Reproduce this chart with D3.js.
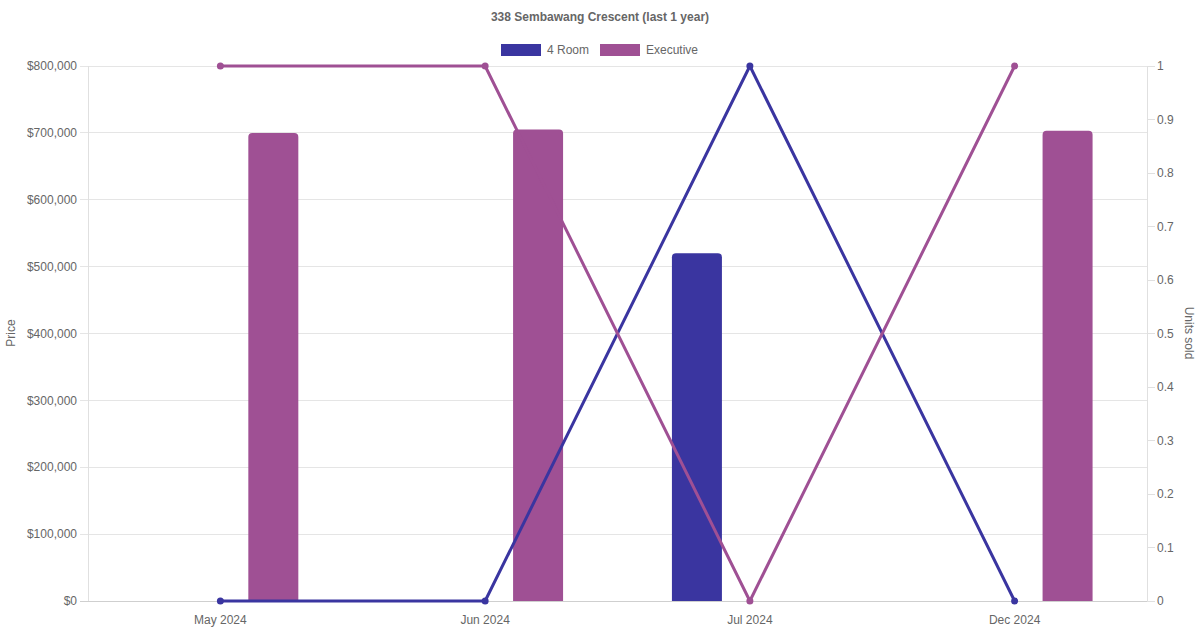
<!DOCTYPE html>
<html><head><meta charset="utf-8">
<script src="https://cdn.jsdelivr.net/npm/d3@7"></script>
<style>body{margin:0;background:#fff}svg{display:block;font-family:"Liberation Sans",Arial,Helvetica,sans-serif}</style>
</head><body>
<svg id="c" width="1200" height="630"></svg>
<script>
const categories = ["May 2024","Jun 2024","Jul 2024","Dec 2024"];
const seriesNames = ["4 Room","Executive"];
const seriesColors = ["#3a35a0","#9f5094"];
const priceFourRoom = [null,null,520000,null];
const priceExecutive = [700000,705000,null,703000];
const unitsFourRoom = [0,0,1,0];
const unitsExecutive = [1,1,0,1];
const priceTicks = [0,100000,200000,300000,400000,500000,600000,700000,800000];
const unitTicks = [0,0.1,0.2,0.3,0.4,0.5,0.6,0.7,0.8,0.9,1];
const title = "338 Sembawang Crescent (last 1 year)";

const svg = d3.select("#c");
const L = 88, R = 1147, T = 66, B = 601;
const x = d3.scaleBand().domain(categories).range([L,R]).padding(0);
const inner = d3.scaleBand().domain(seriesNames).range([x.bandwidth()*0.1, x.bandwidth()*0.9]);
const yP = d3.scaleLinear().domain([0,800000]).range([B,T]);
const yU = d3.scaleLinear().domain([0,1]).range([B,T]);
const txt = "#666";

// grid
svg.append("g").selectAll("line").data(priceTicks).join("line")
  .attr("x1",L-8).attr("x2",R).attr("y1",d=>yP(d)).attr("y2",d=>yP(d))
  .attr("stroke",d=>d===0?"#cfcfcf":"#e5e5e5").attr("stroke-width",1).attr("shape-rendering","crispEdges");
svg.append("line").attr("x1",L).attr("x2",L).attr("y1",T).attr("y2",B).attr("stroke","#e0e0e0").attr("shape-rendering","crispEdges");
svg.append("line").attr("x1",R).attr("x2",R).attr("y1",T).attr("y2",B).attr("stroke","#e0e0e0").attr("shape-rendering","crispEdges");
svg.append("g").selectAll("line").data(unitTicks).join("line")
  .attr("x1",R).attr("x2",R+8).attr("y1",d=>yU(d)).attr("y2",d=>yU(d))
  .attr("stroke","#e0e0e0").attr("shape-rendering","crispEdges");

const fmt = d=>"$"+d3.format(",")(d);
svg.append("g").selectAll("text").data(priceTicks).join("text")
  .attr("x",77).attr("y",d=>yP(d)).attr("dy","0.35em").attr("text-anchor","end")
  .attr("font-size",12).attr("fill",txt).text(fmt);
svg.append("g").selectAll("text").data(unitTicks).join("text")
  .attr("x",1157).attr("y",d=>yU(d)).attr("dy","0.35em").attr("text-anchor","start")
  .attr("font-size",12).attr("fill",txt).text(d=>d3.format("~g")(d));
svg.append("g").selectAll("text").data(categories).join("text")
  .attr("x",d=>x(d)+x.bandwidth()/2).attr("y",620).attr("dy","0.35em").attr("text-anchor","middle")
  .attr("font-size",12).attr("fill",txt).text(d=>d);

svg.append("text").attr("transform","translate(15,333) rotate(-90)").attr("text-anchor","middle")
  .attr("font-size",12).attr("fill",txt).text("Price");
svg.append("text").attr("transform","translate(1185,333) rotate(90)").attr("text-anchor","middle")
  .attr("font-size",12).attr("fill",txt).text("Units sold");

svg.append("text").attr("x",600).attr("y",17).attr("dy","0.35em").attr("text-anchor","middle")
  .attr("font-size",12).attr("font-weight","bold").attr("fill",txt).text(title);

const legend = svg.append("g");
const legX = [501,600];
seriesNames.forEach((n,i)=>{
  legend.append("rect").attr("x",legX[i]).attr("y",44).attr("width",40).attr("height",12).attr("fill",seriesColors[i]);
  legend.append("text").attr("x",legX[i]+46).attr("y",50).attr("dy","0.35em").attr("font-size",12).attr("fill",txt).text(n);
});

const priceSeries = [priceFourRoom, priceExecutive];
const bw = 50, rad = 4;
function barPath(x0,w,yTop,yBot){
  const r = Math.min(rad,(yBot-yTop)/2);
  return `M${x0},${yBot}V${yTop+r}Q${x0},${yTop} ${x0+r},${yTop}H${x0+w-r}Q${x0+w},${yTop} ${x0+w},${yTop+r}V${yBot}Z`;
}
priceSeries.forEach((vals,si)=>{
  svg.append("g").selectAll("path").data(categories.map((c,i)=>({c,v:vals[i]})).filter(d=>d.v!=null)).join("path")
    .attr("d",d=>{
      const cx = x(d.c)+inner(seriesNames[si])+inner.bandwidth()/2;
      return barPath(cx-bw/2,bw,yP(d.v),yP(0));
    })
    .attr("fill",seriesColors[si]);
});

const unitSeries = [unitsFourRoom, unitsExecutive];
unitSeries.forEach((vals,si)=>{
  const pts = categories.map((c,i)=>[x(c)+x.bandwidth()/2, yU(vals[i])]);
  svg.append("path").attr("d",d3.line()(pts)).attr("fill","none")
    .attr("stroke",seriesColors[si]).attr("stroke-width",3).attr("stroke-linejoin","round");
  svg.append("g").selectAll("circle").data(pts).join("circle")
    .attr("cx",d=>d[0]).attr("cy",d=>d[1]).attr("r",3.5).attr("fill",seriesColors[si]);
});
</script>
</body></html>
